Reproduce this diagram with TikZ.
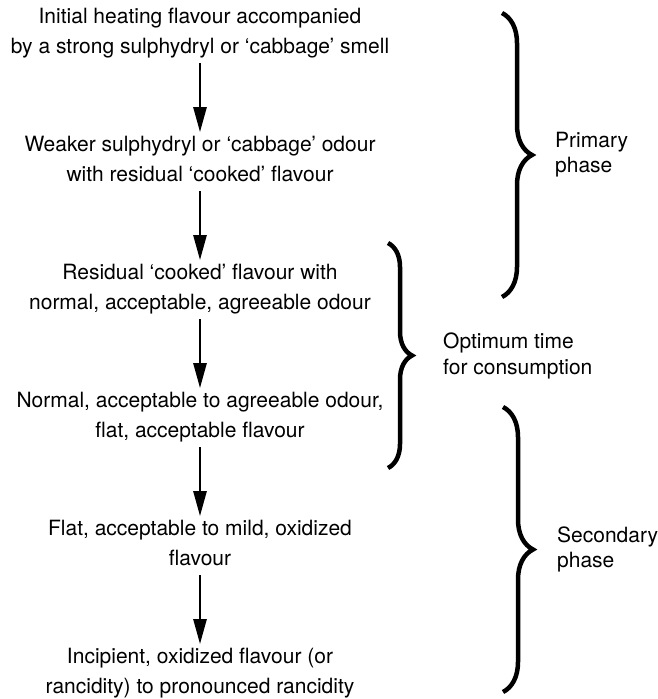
\documentclass[tikz,border=0pt]{standalone}
\usepackage{fontspec}
\setmainfont{TeX Gyre Heros}
\usetikzlibrary{arrows.meta,decorations.pathreplacing}
% fixed line height so every two-line node has the same box
\newcommand{\lnstrut}{\rule[-5pt]{0pt}{20pt}}

\begin{document}
\begin{tikzpicture}[x=1pt,y=-1pt,
  stage/.style={align=center, inner sep=0pt, font=\fontsize{21}{30}\selectfont},
  phaselabel/.style={align=left, anchor=west, inner sep=0pt, font=\fontsize{21}{25.5}\selectfont},
  flow/.style={line width=2.6pt, -{Triangle[width=13pt,length=25pt]},
               shorten <=4.5pt, shorten >=3.5pt},
  bracket/.style={line width=4.5pt, decorate, decoration={brace, amplitude=#1}}
]
\useasboundingbox (0,0) rectangle (658,699);

% stages of flavour development
\node[stage] (s1) at (200,33)  {\lnstrut Initial heating flavour accompanied\\\lnstrut by a strong sulphydryl or ‘cabbage’ smell};
\node[stage] (s2) at (200,161) {\lnstrut Weaker sulphydryl or ‘cabbage’ odour\\\lnstrut with residual ‘cooked’ flavour};
\node[stage] (s3) at (200,289) {\lnstrut Residual ‘cooked’ flavour with\\\lnstrut normal, acceptable, agreeable odour};
\node[stage] (s4) at (200,417) {\lnstrut Normal, acceptable to agreeable odour,\\\lnstrut flat, acceptable flavour};
\node[stage] (s5) at (200,545) {\lnstrut Flat, acceptable to mild, oxidized\\\lnstrut flavour};
\node[stage] (s6) at (200,673) {\lnstrut Incipient, oxidized flavour (or\\\lnstrut rancidity) to pronounced rancidity};

\draw[flow] (s1.south) -- (s2.north);
\draw[flow] (s2.south) -- (s3.north);
\draw[flow] (s3.south) -- (s4.north);
\draw[flow] (s4.south) -- (s5.north);
\draw[flow] (s5.south) -- (s6.north);

% phase brackets
\coordinate (pTop) at (502,13);
\coordinate (pBot) at (502,297);
\coordinate (oTop) at (388,243);
\coordinate (oBot) at (388,468);
\coordinate (sTop) at (503,407);
\coordinate (sBot) at (503,692);

\draw[bracket=30] (pTop) -- (pBot);
\draw[bracket=24] (oTop) -- (oBot);
\draw[bracket=30] (sTop) -- (sBot);

\node[phaselabel] (lp) at (555,155)   {\lnstrut Primary\\\lnstrut phase};
\node[phaselabel] (lo) at (443,356)   {\lnstrut Optimum time\\\lnstrut for consumption};
\node[phaselabel] (ls) at (557,549.5) {\lnstrut Secondary\\\lnstrut phase};
\end{tikzpicture}
\end{document}
